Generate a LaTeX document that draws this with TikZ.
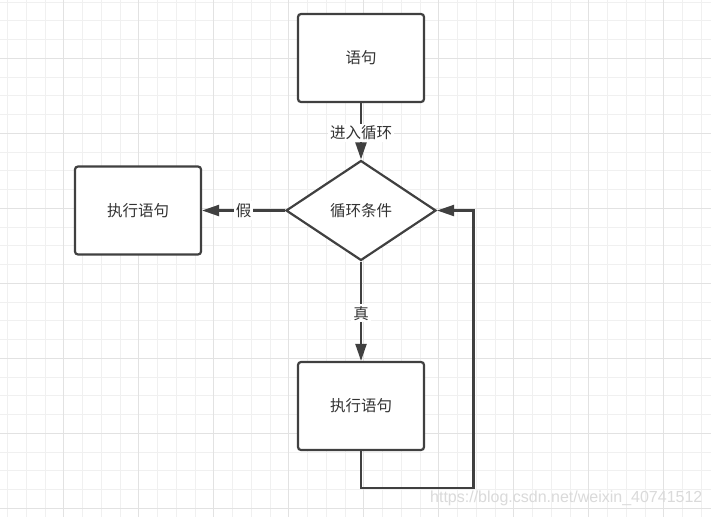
\documentclass[tikz,border=0pt]{standalone}
\usepackage{fontspec}
\usepackage{tikz}
\usetikzlibrary{shapes.geometric, arrows.meta}
\newfontfamily\cjk{Noto Sans CJK SC}
\newfontfamily\marksf{Liberation Sans}
\definecolor{ink}{RGB}{64, 64, 64}
\definecolor{textc}{RGB}{51, 51, 51}
\definecolor{gridminor}{RGB}{240, 240, 240}
\definecolor{gridmajor}{RGB}{226, 226, 226}
\definecolor{wmark}{RGB}{218, 218, 218}

\begin{document}
\begin{tikzpicture}[x=1pt, y=-1pt,
    box/.style={draw=ink, line width=2.2, rounded corners=3, fill=white,
      minimum width=126, minimum height=88, text=textc,
      font=\cjk\fontsize{15.5}{18}\selectfont},
    cond/.style={diamond, draw=ink, line width=2.2, fill=white, aspect=1.5,
      inner sep=0, minimum width=150, minimum height=100, text=textc,
      font=\cjk\fontsize{15.5}{18}\selectfont},
    flow/.style={draw=ink, line width=2.2, -{Triangle[length=17pt, width=11pt]}},
    lbl/.style={fill=white, inner sep=2, text=textc,
      font=\cjk\fontsize{15.5}{18}\selectfont}]

  \useasboundingbox (0, 0) rectangle (711, 517);
  \fill[white] (0, 0) rectangle (711, 517);

  % background grid
  \foreach \i in {0,...,37}
    \draw[gridminor, line width=1] (7.5+18.75*\i, 0) -- (7.5+18.75*\i, 517);
  \foreach \j in {0,...,27}
    \draw[gridminor, line width=1] (0, 2.1+18.75*\j) -- (711, 2.1+18.75*\j);
  \foreach \i in {0,...,8}
    \draw[gridmajor, line width=1] (63.75+75*\i, 0) -- (63.75+75*\i, 517);
  \foreach \j in {0,...,6}
    \draw[gridmajor, line width=1] (0, 58.35+75*\j) -- (711, 58.35+75*\j);

  \node[box] (stmt) at (361, 58) {语句};
  \node[cond] (loopcond) at (361, 210.5) {循环条件};
  \node[box] (done) at (138, 210.5) {执行语句};
  \node[box] (body) at (361, 406) {执行语句};
  \coordinate (back) at (473.5, 488);

  \draw[flow] (stmt) -- node[lbl, pos=0.53] {进入循环} (loopcond);
  \draw[flow] (loopcond) -- node[lbl] {假} (done);
  \draw[flow] (loopcond) -- node[lbl, pos=0.52] {真} (body);
  \draw[flow] (body.south) |- (back) |- (loopcond.east);

  \node[anchor=west, text=wmark, inner sep=0,
    font=\marksf\fontsize{16}{18}\selectfont] (wm) at (430, 498.5)
    {https://blog.csdn.net/weixin\_40741512};
\end{tikzpicture}
\end{document}
